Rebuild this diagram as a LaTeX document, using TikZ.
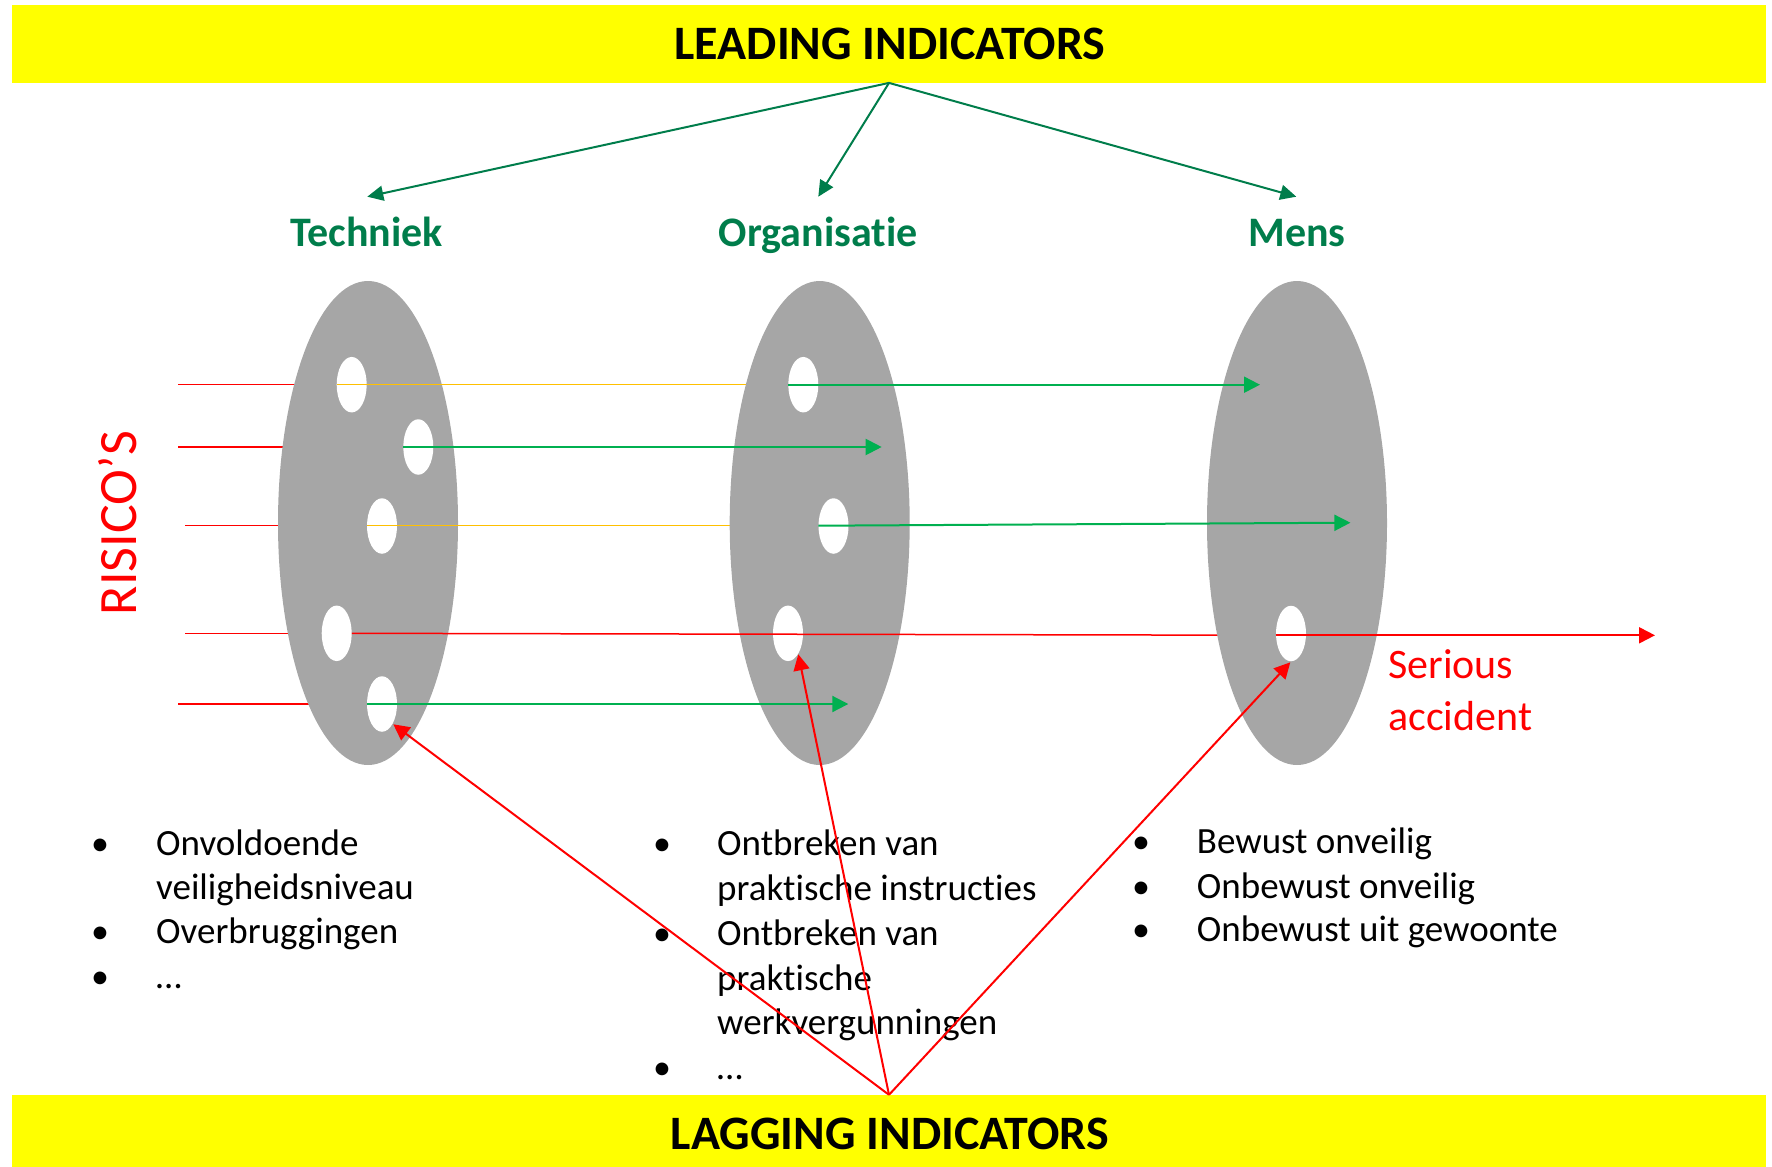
\documentclass[tikz,border=0pt]{standalone}
\usepackage{fontspec}
\setmainfont{Carlito}[Ligatures=NoCommon]
\usetikzlibrary{shapes.geometric,arrows.meta}
\definecolor{banyellow}{RGB}{255,255,0}
\definecolor{discgray}{RGB}{166,166,166}
\definecolor{lgreen}{RGB}{0,176,80}
\definecolor{dgreen}{RGB}{0,125,75}
\definecolor{rred}{RGB}{255,0,0}
\definecolor{rorange}{RGB}{255,192,0}
\newcommand\myfs[2]{\fontsize{#1}{#2}\selectfont}
\begin{document}
\begin{tikzpicture}[x=1pt,y=-1pt,
  bannerbox/.style={rectangle, fill=banyellow, draw=none, inner sep=0pt, minimum width=1754pt},
  bannertext/.style={anchor=base, inner sep=0pt, font=\myfs{48}{58}\bfseries, text=black},
  disc/.style={ellipse, fill=discgray, draw=none, minimum width=180pt, minimum height=484pt, inner sep=0pt},
  hole/.style={ellipse, fill=white, draw=none, minimum width=30pt, minimum height=55.5pt, inner sep=0pt},
  coltitle/.style={anchor=base, inner sep=0pt, font=\myfs{42}{50}\bfseries, text=dgreen},
  listtext/.style={anchor=base west, inner sep=0pt, font=\myfs{37}{44}, text=black},
  bulletmark/.style={anchor=base, inner sep=0pt, font=\myfs{36}{44}, text=black},
  thinred/.style={draw=rred, line width=1.5pt},
  orangeline/.style={draw=rorange, line width=1.5pt},
  greenarrow/.style={draw=lgreen, line width=2pt, -{Triangle[length=16pt,width=16pt]}},
  redarrow/.style={draw=rred, line width=2pt, -{Triangle[length=16pt,width=16pt]}},
  toparrow/.style={draw=dgreen, line width=2pt, -{Triangle[length=16pt,width=15pt]}},
]
\useasboundingbox (0,0) rectangle (1772,1167);

% banners
\node[bannerbox, minimum height=77.7pt] (leadbar) at (889,43.85) {};
\node[bannerbox, minimum height=72pt] (lagbar) at (889,1131) {};
\node[bannertext] (leadtxt) at (890,59.3) {LEADING INDICATORS};
\node[bannertext] (lagtxt) at (890,1149.3) {LAGGING INDICATORS};

% column titles
\node[coltitle] (tech) at (366.5,246.7) {Techniek};
\node[coltitle] (org) at (818.3,246.7) {Organisatie};
\node[coltitle] (mens) at (1297,246.7) {Mens};

% top arrow tips
\coordinate (tipT) at (367.3,196.7);
\coordinate (tipO) at (818.3,196.7);
\coordinate (tipM) at (1296.3,196.7);
\draw[toparrow] (leadbar.south) -- (tipT);
\draw[toparrow] (leadbar.south) -- (tipO);
\draw[toparrow] (leadbar.south) -- (tipM);

% RISICO'S
\node[anchor=base, inner sep=0pt, rotate=90, font=\myfs{54}{60}, text=rred] (risico) at (136,523) {RISICO’S};

% incoming red lines (behind disc 1)
\coordinate (r1) at (178,384.7);
\coordinate (r2) at (178,447);
\coordinate (r3) at (185,525.7);
\coordinate (r4) at (185,633.3);
\coordinate (r5) at (178,704);
\coordinate (r1e) at (368,384.7);
\coordinate (r2e) at (368,447);
\coordinate (r3e) at (368,525.7);
\coordinate (r4e) at (368,633.3);
\coordinate (r5e) at (368,704);
\draw[thinred] (r1) -- (r1e);
\draw[thinred] (r2) -- (r2e);
\draw[thinred] (r3) -- (r3e);
\draw[thinred] (r4) -- (r4e);
\draw[thinred] (r5) -- (r5e);

% disc 1 (Techniek)
\node[disc] (d1) at (368,523) {};
\node[hole] (h1a) at (351.7,384.7) {};
\node[hole] (h1b) at (418.3,447) {};
\node[hole] (h1c) at (382,526) {};
\node[hole] (h1d) at (336.7,633.3) {};
\node[hole] (h1e) at (382,704) {};

% orange lines (over disc 1, behind disc 2)
\coordinate (o1e) at (820,384.7);
\coordinate (o3e) at (820,525.7);
\draw[orangeline] (h1a.west) -- (o1e);
\draw[orangeline] (h1c.west |- r3) -- (o3e);

% disc 2 (Organisatie)
\node[disc] (d2) at (819.7,523) {};
\node[hole] (h2a) at (803.3,384.7) {};
\node[hole] (h2c) at (833.5,526) {};
\node[hole] (h2d) at (788,633.3) {};

% green arrows from disc 1 through disc 2
\coordinate (g2e) at (881.7,447);
\coordinate (g5e) at (848.3,704);
\draw[greenarrow] (h1b.west) -- (g2e);
\draw[greenarrow] (h1e.west) -- (g5e);

% red line through discs 1 and 2 (behind disc 3)
\coordinate (r4m) at (1297,635.3);
\draw[thinred] (h1d.east) -- (r4m);

% disc 3 (Mens)
\node[disc] (d3) at (1297,523) {};
\node[hole] (h3d) at (1291,633.5) {};

% green arrows from disc 2 to disc 3
\coordinate (g1e) at (1260,384.7);
\coordinate (g3s) at (818.3,525.7);
\coordinate (g3e) at (1350.4,522.7);
\draw[greenarrow] (h2a.west) -- (g1e);
\draw[greenarrow] (g3s) -- (g3e);

% serious accident
\coordinate (accS) at (1275.7,635.3);
\coordinate (accE) at (1655,635.3);
\draw[redarrow] (accS) -- (accE);
\node[anchor=base west, inner sep=0pt, font=\myfs{42}{52}, text=rred] (acc1) at (1388,678) {Serious};
\node[anchor=base west, inner sep=0pt, font=\myfs{42}{52}, text=rred] (acc2) at (1388,730) {accident};

% lists
\node[bulletmark] (b11) at (100,855) {•};
\node[listtext] (t11) at (156,855) {Onvoldoende};
\node[listtext] (t12) at (156,899.3) {veiligheidsniveau};
\node[bulletmark] (b12) at (100,943.5) {•};
\node[listtext] (t13) at (156,943.5) {Overbruggingen};
\node[bulletmark] (b13) at (100,988) {•};
\node[listtext] (t14) at (156,988) {…};

\node[bulletmark] (b21) at (662,855.7) {•};
\node[listtext] (t21) at (717,855.7) {Ontbreken van};
\node[listtext] (t22) at (717,900.7) {praktische instructies};
\node[bulletmark] (b22) at (662,945) {•};
\node[listtext] (t23) at (717,945) {Ontbreken van};
\node[listtext] (t24) at (717,990) {praktische};
\node[listtext] (t25) at (717,1034) {werkvergunningen};
\node[bulletmark] (b23) at (662,1079) {•};
\node[listtext] (t26) at (717,1079) {…};

\node[bulletmark] (b31) at (1141,853.3) {•};
\node[listtext] (t31) at (1196.7,853.3) {Bewust onveilig};
\node[bulletmark] (b32) at (1141,898.3) {•};
\node[listtext] (t32) at (1196.7,898.3) {Onbewust onveilig};
\node[bulletmark] (b33) at (1141,941.7) {•};
\node[listtext] (t33) at (1196.7,941.7) {Onbewust uit gewoonte};

% lagging arrows
\coordinate (lagT) at (393.3,724.3);
\coordinate (lagO) at (798.3,654.3);
\coordinate (lagM) at (1290.3,662.3);
\draw[redarrow] (lagbar.north) -- (lagT);
\draw[redarrow] (lagbar.north) -- (lagO);
\draw[redarrow] (lagbar.north) -- (lagM);
\end{tikzpicture}
\end{document}
